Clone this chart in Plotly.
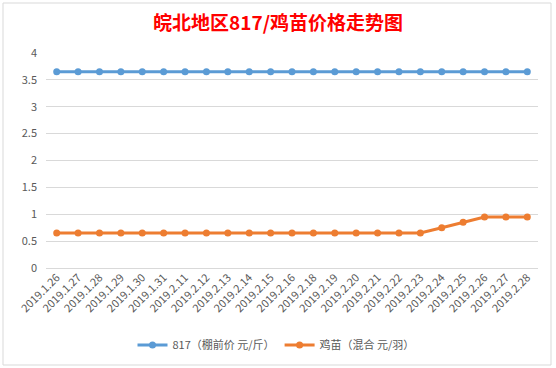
import plotly.graph_objects as go

dates = ["2019.1.26", "2019.1.27", "2019.1.28", "2019.1.29", "2019.1.30", "2019.1.31",
         "2019.2.11", "2019.2.12", "2019.2.13", "2019.2.14", "2019.2.15", "2019.2.16",
         "2019.2.18", "2019.2.19", "2019.2.20", "2019.2.21", "2019.2.22", "2019.2.23",
         "2019.2.24", "2019.2.25", "2019.2.26", "2019.2.27", "2019.2.28"]
price_817 = [3.65] * 23
price_chick = [0.65] * 18 + [0.75, 0.85, 0.95, 0.95, 0.95]

name_817 = "817（棚前价 元/斤）"
name_chick = "鸡苗（混合 元/羽）"
title = "皖北地区817/鸡苗价格走势图"

W, H = 556, 368
ml, mr, mt, mb = 46, 18, 53, 100
PW, PH = W - ml - mr, H - mt - mb

fig = go.Figure()
fig.add_trace(go.Scatter(x=dates, y=price_817, name=name_817, mode="lines+markers",
                         line=dict(color="#5B9BD5", width=3),
                         marker=dict(size=7, color="#5B9BD5")))
fig.add_trace(go.Scatter(x=dates, y=price_chick, name=name_chick, mode="lines+markers",
                         line=dict(color="#ED7D31", width=3),
                         marker=dict(size=7, color="#ED7D31")))

fig.update_layout(
    width=W, height=H,
    margin=dict(l=ml, r=mr, t=mt, b=mb, autoexpand=False),
    paper_bgcolor="white", plot_bgcolor="white",
    font=dict(family="Noto Sans CJK SC, Liberation Sans, sans-serif", size=10, color="#595959"),
    title=dict(text="<b>" + title + "</b>", x=0.5, xanchor="center", y=1 - 23 / H, yanchor="middle",
               font=dict(size=19, color="#FF0000", family="Noto Sans CJK SC, sans-serif")),
    showlegend=True,
    legend=dict(orientation="h", x=(276 - ml) / PW, xanchor="center", y=-(345 - (H - mb)) / PH,
                yanchor="middle", font=dict(size=11, color="#595959"), itemwidth=30),
    xaxis=dict(type="category", tickangle=-45, showgrid=False, showline=False, ticks="",
               automargin=False, ticklabelstandoff=0,
               tickfont=dict(size=11, color="#595959"), range=[-0.5, len(dates) - 0.5]),
    yaxis=dict(range=[0, 4], dtick=0.5, showgrid=True, gridcolor="#D9D9D9", gridwidth=1,
               automargin=False,
               zeroline=True, zerolinecolor="#D9D9D9", zerolinewidth=1, showline=False,
               ticks="", ticklabelstandoff=8, tickfont=dict(size=11, color="#595959")),
    shapes=[dict(type="rect", xref="paper", yref="paper",
                 x0=(3 - ml) / PW, x1=(551 - ml) / PW,
                 y0=-(365 - (H - mb)) / PH, y1=1 + (mt - 3) / PH,
                 line=dict(color="#D9D9D9", width=1))],
)

fig.write_html("out.html", config={"displayModeBar": False},
               post_script="document.body.style.margin='0';")
